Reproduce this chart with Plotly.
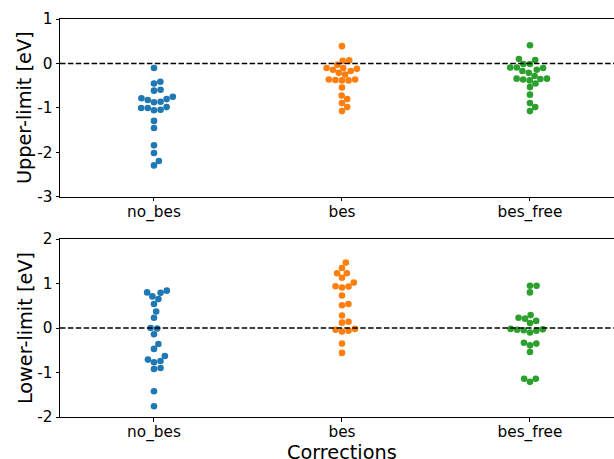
import numpy as np
import plotly.graph_objects as go

categories = ["no_bes", "bes", "bes_free"]
colors = ["#1f77b4", "#ff7f0e", "#2ca02c"]

upper_no_bes = [-0.10, -0.41, -0.45, -0.59, -0.61, -0.75, -0.78, -0.80, -0.82, -0.86, -0.87,
                -0.98, -1.00, -1.00, -1.04, -1.05, -1.29, -1.45, -1.84, -2.01, -2.19, -2.29]
upper_bes = [0.39, 0.07, 0.06, -0.03, -0.10, -0.12, -0.10, -0.14, -0.17, -0.21, -0.25,
             -0.36, -0.37, -0.36, -0.38, -0.38, -0.54, -0.72, -0.80, -0.89, -0.98, -1.07]
upper_bes_free = [0.41, 0.10, 0.08, -0.01, -0.01, -0.09, -0.09, -0.10, -0.14, -0.17, -0.21,
                  -0.28, -0.34, -0.35, -0.36, -0.34, -0.38, -0.45, -0.53, -0.70, -0.89, -0.98, -1.07]

lower_no_bes = [0.84, 0.80, 0.79, 0.71, 0.65, 0.54, 0.37, 0.23, 0.00, -0.01, -0.14,
                -0.36, -0.47, -0.63, -0.71, -0.74, -0.77, -0.90, -0.92, -1.42, -1.76]
lower_bes = [1.47, 1.35, 1.23, 1.23, 1.13, 1.02, 0.94, 0.93, 0.91, 0.73, 0.54,
             0.51, 0.28, 0.14, 0.12, -0.06, -0.08, -0.04, -0.02, -0.35, -0.56]
lower_bes_free = [0.95, 0.95, 0.80, 0.29, 0.21, 0.23, 0.16, 0.11, -0.04, -0.05, -0.03,
                  -0.02, -0.06, -0.10, -0.35, -0.33, -0.39, -0.54, -1.14, -1.14, -1.21]

upper_ticks = [1, 0, -1, -2, -3]
lower_ticks = [2, 1, 0, -1, -2]

# pixel geometry used only for the swarm layout algorithm
PX_PER_X = 188.0
PX_PER_Y = 44.5
DIAM = 6.6


def swarm_offsets(values):
    vals = np.asarray(values, float)
    order = np.argsort(vals)
    placed = []
    offs = np.zeros(len(vals))
    for i in order:
        y = vals[i] * PX_PER_Y
        cands = [0.0]
        for (px, py) in placed:
            dy = abs(py - y)
            if dy < DIAM:
                dx = np.sqrt(DIAM ** 2 - dy ** 2)
                cands += [px + dx, px - dx]
        cands.sort(key=lambda c: (abs(c), -c))
        for c in cands:
            ok = True
            for (px, py) in placed:
                if (px - c) ** 2 + (py - y) ** 2 < DIAM ** 2 - 1e-6:
                    ok = False
                    break
            if ok:
                break
        placed.append((c, y))
        offs[i] = c / PX_PER_X
    return offs


fig = go.Figure()
panels = [
    ([upper_no_bes, upper_bes, upper_bes_free], "x", "y"),
    ([lower_no_bes, lower_bes, lower_bes_free], "x2", "y2"),
]
for data, xa, ya in panels:
    for k, vals in enumerate(data):
        offs = swarm_offsets(vals)
        fig.add_trace(go.Scatter(
            x=k + offs, y=vals, mode="markers", xaxis=xa, yaxis=ya,
            marker=dict(size=DIAM, color=colors[k], line=dict(width=0)),
            showlegend=False, hoverinfo="skip"))

for ya in ["y", "y2"]:
    fig.add_shape(type="line", xref=("x domain" if ya == "y" else "x2 domain"), yref=ya,
                  x0=0, x1=1, y0=0, y1=0,
                  line=dict(color="black", width=1.5, dash="5.5px,2.4px"))

font = dict(family="DejaVu Sans", size=15.3, color="black")
title_font = dict(family="DejaVu Sans", size=19.3, color="black")
xaxis_common = dict(range=[-0.5, 2.447], tickvals=[0, 1, 2], ticktext=categories,
                    showline=True, linecolor="black", linewidth=1, mirror=True,
                    ticks="outside", ticklen=3.5, tickcolor="black", showgrid=False,
                    zeroline=False, tickfont=font, ticklabelstandoff=-3)
yaxis_common = dict(showline=True, linecolor="black", linewidth=1, mirror=False,
                    ticks="outside", ticklen=3.5, tickcolor="black", showgrid=False,
                    zeroline=False, tickfont=font)

TOP_DOM = [0.5528, 1]
BOT_DOM = [0, 0.4472]

fig.update_layout(
    width=614, height=459,
    margin=dict(l=60, r=0, t=19, b=42, autoexpand=False),
    paper_bgcolor="white", plot_bgcolor="white",
    font=font,
    xaxis=dict(**xaxis_common, domain=[0, 1], anchor="y"),
    xaxis2=dict(**xaxis_common, domain=[0, 1], anchor="y2"),
    yaxis=dict(**yaxis_common, domain=TOP_DOM, anchor="x", range=[-3, 1],
               tickvals=upper_ticks, ticktext=[str(t) for t in upper_ticks]),
    yaxis2=dict(**yaxis_common, domain=BOT_DOM, anchor="x2", range=[-2, 2],
                tickvals=lower_ticks, ticktext=[str(t) for t in lower_ticks]),
    annotations=[
        dict(text="Corrections", xref="paper", yref="paper", x=0.509, y=-0.088,
             xanchor="center", yanchor="middle", showarrow=False, font=title_font),
        dict(text="Upper-limit [eV]", xref="paper", yref="paper", x=-0.063,
             y=sum(TOP_DOM) / 2, xanchor="center", yanchor="middle", textangle=-90,
             showarrow=False, font=title_font),
        dict(text="Lower-limit [eV]", xref="paper", yref="paper", x=-0.063,
             y=sum(BOT_DOM) / 2, xanchor="center", yanchor="middle", textangle=-90,
             showarrow=False, font=title_font),
    ],
)

fig.write_html("out.html", config={"displayModeBar": False},
               post_script="document.body.style.margin='0';document.body.style.overflow='hidden';")
